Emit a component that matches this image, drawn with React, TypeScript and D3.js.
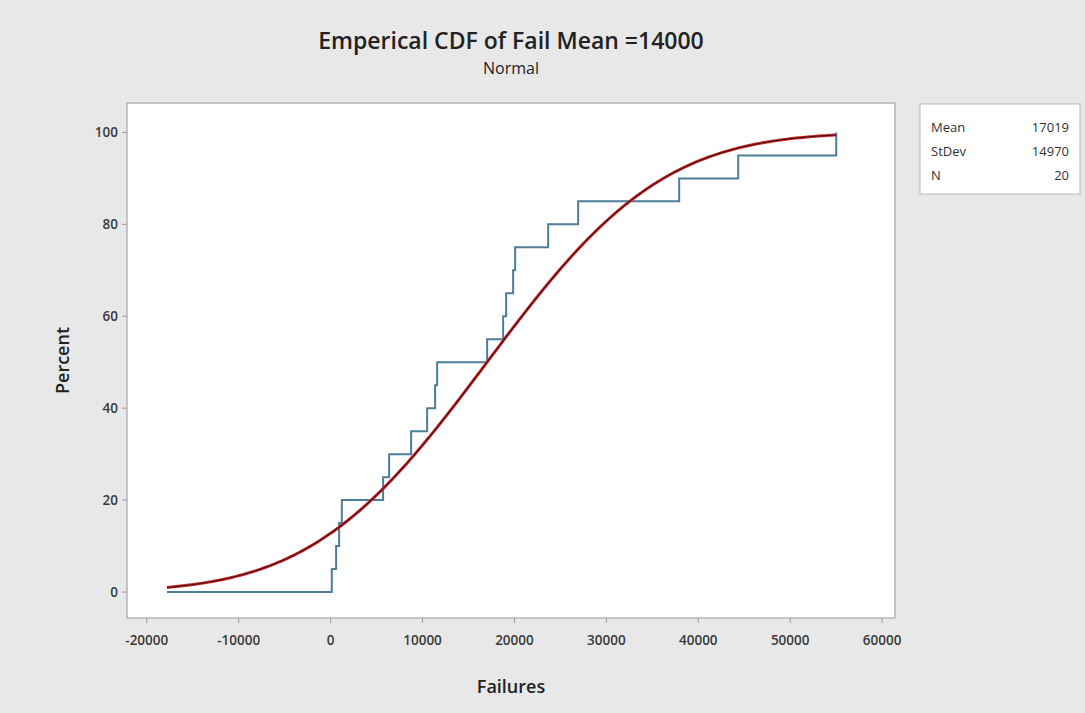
import * as d3 from "d3";

// failure times (20 obs)
const failures = [
  130, 600, 925, 1220, 5713, 6366, 8760, 10500, 11371, 11589,
  17029, 18770, 19097, 19858, 20076, 23667, 26932, 37922, 44342, 55005,
];
const fitMean = 17019;
const fitStDev = 14970;
const curveStart = -17800;
const xTicks = [-20000, -10000, 0, 10000, 20000, 30000, 40000, 50000, 60000];
const yTicks = [0, 20, 40, 60, 80, 100];
const legendRows = [
  ["Mean", "17019"],
  ["StDev", "14970"],
  ["N", "20"],
];

const W = 1085;
const H = 713;
const plot = { left: 127, right: 895, top: 103, bottom: 618 };
const font = "'Open Sans', 'Noto Sans', sans-serif";

// normal cdf via erf approximation (Abramowitz-Stegun)
const erf = (z: number) => {
  const t = 1 / (1 + 0.3275911 * Math.abs(z));
  const p =
    1 -
    (((((1.061405429 * t - 1.453152027) * t + 1.421413741) * t - 0.284496736) * t +
      0.254829592) *
      t) *
      Math.exp(-z * z);
  return z >= 0 ? p : -p;
};
const cdf = (v: number) => 50 * (1 + erf((v - fitMean) / (fitStDev * Math.SQRT2)));

export default function App() {
  const x = d3.scaleLinear().domain([-22150, 61400]).range([plot.left, plot.right]);
  const y = d3.scaleLinear().domain([-5.65, 106.4]).range([plot.bottom, plot.top]);

  const sorted = [...failures].sort((a, b) => a - b);
  const n = sorted.length;
  const stepPts: [number, number][] = [[curveStart, 0]];
  sorted.forEach((v, i) => stepPts.push([v, ((i + 1) / n) * 100]));
  const stepLine = d3
    .line<[number, number]>()
    .x((d) => x(d[0]))
    .y((d) => y(d[1]))
    .curve(d3.curveStepAfter);

  const maxX = d3.max(failures)!;
  const curvePts: [number, number][] = d3.range(0, 301).map((i) => {
    const v = curveStart + ((maxX - curveStart) * i) / 300;
    return [v, cdf(v)] as [number, number];
  });
  const fitLine = d3
    .line<[number, number]>()
    .x((d) => x(d[0]))
    .y((d) => y(d[1]));

  const cx = (plot.left + plot.right) / 2;

  return (
    <svg
      width={W}
      height={H}
      style={{ position: "absolute", left: 0, top: 0, display: "block" }}
      fontFamily={font}
    >
      <rect width={W} height={H} fill="#e8e8e8" />
      <text x={cx} y={49} textAnchor="middle" fontSize={23} fontWeight={600} fill="#222">
        Emperical CDF of Fail Mean =14000
      </text>
      <text x={cx} y={74} textAnchor="middle" fontSize={16} fontWeight={500} fill="#222">
        Normal
      </text>

      <rect
        x={plot.left}
        y={plot.top}
        width={plot.right - plot.left}
        height={plot.bottom - plot.top}
        fill="#fff"
        stroke="#b5b5b5"
        strokeWidth={1.5}
      />

      {xTicks.map((t) => (
        <g key={t}>
          <line x1={x(t)} x2={x(t)} y1={plot.bottom} y2={plot.bottom + 5} stroke="#9a9a9a" />
          <text x={x(t)} y={645} textAnchor="middle" fontSize={13.5} fontWeight={600} fill="#3a3a3a">
            {t}
          </text>
        </g>
      ))}
      {yTicks.map((t) => (
        <g key={t}>
          <line x1={plot.left - 5} x2={plot.left} y1={y(t)} y2={y(t)} stroke="#9a9a9a" />
          <text x={plot.left - 9} y={y(t) + 5} textAnchor="end" fontSize={13.5} fontWeight={600} fill="#3a3a3a">
            {t}
          </text>
        </g>
      ))}

      <text x={cx} y={693} textAnchor="middle" fontSize={18} fontWeight={600} fill="#222">
        Failures
      </text>
      <text
        transform={`translate(69,${(plot.top + plot.bottom) / 2}) rotate(-90)`}
        textAnchor="middle"
        fontSize={18}
        fontWeight={600}
        fill="#222"
      >
        Percent
      </text>

      <path d={stepLine(stepPts)!} fill="none" stroke="#4e7d98" strokeWidth={2} />
      <path d={fitLine(curvePts)!} fill="none" stroke="#d0282c" strokeWidth={3} />
      <path d={fitLine(curvePts)!} fill="none" stroke="#4a1212" strokeWidth={1.2} />

      <rect x={920} y={104} width={160} height={90} fill="#fff" stroke="#b5b5b5" />
      {legendRows.map((r, i) => (
        <g key={r[0]} fontSize={13} fontWeight={500} fill="#333">
          <text x={931} y={132 + i * 24}>
            {r[0]}
          </text>
          <text x={1069} y={132 + i * 24} textAnchor="end">
            {r[1]}
          </text>
        </g>
      ))}
    </svg>
  );
}
